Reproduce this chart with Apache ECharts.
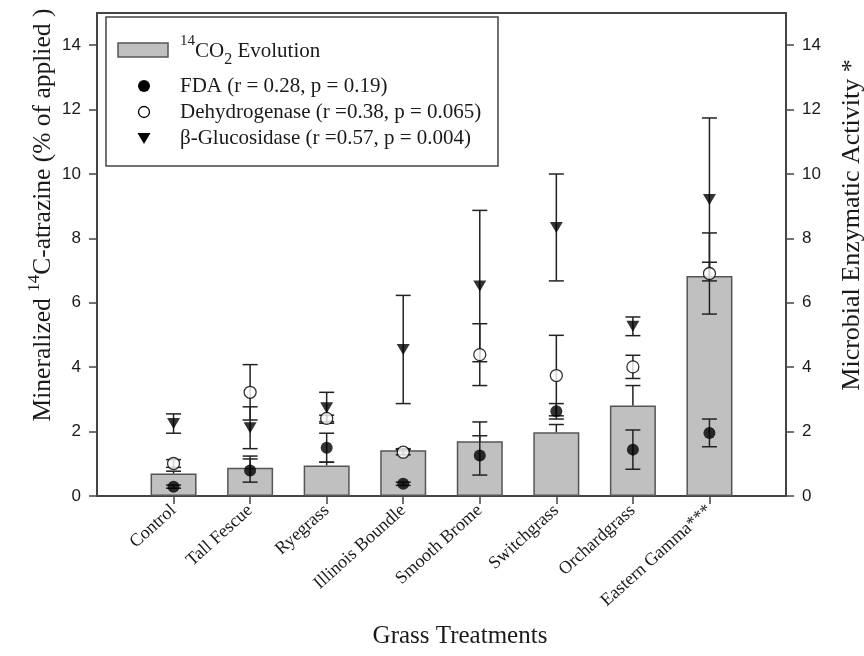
<!DOCTYPE html>
<html>
<head>
<meta charset="utf-8">
<script src="https://cdn.jsdelivr.net/npm/echarts@6/dist/echarts.min.js"></script>
<style>
  html, body { margin: 0; padding: 0; background: #fff; }
  #main { width: 864px; height: 656px; }
</style>
</head>
<body>
<div id="main"></div>
<script>
// grass treatments
var categories = ['Control', 'Tall Fescue', 'Ryegrass', 'Illinois Boundle', 'Smooth Brome',
  'Switchgrass', 'Orchardgrass', 'Eastern Gamma***'];

// 14CO2 evolution (% of applied) and upper error
var co2 = [0.70, 0.88, 0.95, 1.42, 1.70, 1.98, 2.81, 6.83];
var co2Err = [0.07, 0.36, 0.10, 0.05, 0.60, 0.24, 0.62, 0.43];

// enzyme activities and their errors
var fda = [0.29, 0.79, 1.50, 0.38, 1.26, 2.63, 1.44, 1.96];
var fdaErr = [0.05, 0.36, 0.45, 0.05, 0.61, 0.24, 0.61, 0.43];
var dehydro = [1.01, 3.22, 2.41, 1.36, 4.39, 3.74, 4.01, 6.91];
var dehydroErr = [0.12, 0.86, 0.10, 0.08, 0.96, 1.25, 0.36, 1.26];
var gluco = [2.25, 2.12, 2.74, 4.55, 6.52, 8.34, 5.27, 9.21];
var glucoErr = [0.30, 0.65, 0.48, 1.68, 2.35, 1.66, 0.29, 2.53];

var yTicks = [0, 2, 4, 6, 8, 10, 12, 14];

// blank slots at both ends so the points sit one step in from the frame
var xLabels = [''].concat(categories, [' ']);

var serif = 'Liberation Serif';
var sans = 'Liberation Sans';
var ink = '#1a1a1a';
var axisGray = '#444';

function pairs(vals) {
  return categories.map(function (c, i) { return [c, vals[i]]; });
}

function errRange(vals, errs, upperOnly) {
  return categories.map(function (c, i) {
    return [c, upperOnly ? vals[i] : vals[i] - errs[i], vals[i] + errs[i]];
  });
}

function errorBar(upperOnly) {
  return function (params, api) {
    var x = api.value(0);
    var lo = api.coord([x, api.value(1)]);
    var hi = api.coord([x, api.value(2)]);
    var hw = 7.5;
    var st = { stroke: '#222', lineWidth: 1.5 };
    var kids = [
      { type: 'line', shape: { x1: lo[0], y1: lo[1], x2: hi[0], y2: hi[1] }, style: st },
      { type: 'line', shape: { x1: hi[0] - hw, y1: hi[1], x2: hi[0] + hw, y2: hi[1] }, style: st }
    ];
    if (!upperOnly) {
      kids.push({ type: 'line', shape: { x1: lo[0] - hw, y1: lo[1], x2: lo[0] + hw, y2: lo[1] }, style: st });
    }
    return { type: 'group', children: kids };
  };
}

function valueAxis(pos) {
  return {
    type: 'value',
    position: pos,
    min: 0,
    max: 15,
    interval: 2,
    splitLine: { show: false },
    axisLine: { show: true, lineStyle: { color: axisGray, width: 2 } },
    axisTick: { show: true, length: 8, customValues: yTicks, lineStyle: { color: axisGray, width: 1.5 } },
    axisLabel: { customValues: yTicks, margin: 16, fontFamily: sans, fontSize: 17, color: ink }
  };
}

var chart = echarts.init(document.getElementById('main'));

var option = {
  backgroundColor: '#ffffff',
  animation: false,
  grid: {
    left: 97, right: 78, top: 13, bottom: 160,
    show: true, borderColor: axisGray, borderWidth: 2
  },
  xAxis: {
    type: 'category',
    data: xLabels,
    boundaryGap: false,
    axisLine: { lineStyle: { color: axisGray, width: 2 } },
    axisTick: {
      length: 8,
      interval: function (i) { return i > 0 && i < xLabels.length - 1; },
      lineStyle: { color: axisGray, width: 1.5 }
    },
    axisLabel: {
      interval: 0, rotate: 42, margin: 12,
      fontFamily: serif, fontSize: 18, color: ink
    }
  },
  yAxis: [valueAxis('left'), valueAxis('right')],
  series: [
    {
      name: 'CO2 Evolution',
      type: 'bar',
      data: pairs(co2),
      barWidth: 46,
      itemStyle: { color: '#c0c0c0', borderColor: '#555', borderWidth: 1.5 },
      z: 2
    },
    {
      type: 'custom', renderItem: errorBar(true), data: errRange(co2, co2Err, true),
      encode: { x: 0, y: [1, 2] }, z: 3
    },
    {
      type: 'custom', renderItem: errorBar(false), data: errRange(fda, fdaErr),
      yAxisIndex: 1, encode: { x: 0, y: [1, 2] }, z: 3
    },
    {
      type: 'custom', renderItem: errorBar(false), data: errRange(dehydro, dehydroErr),
      yAxisIndex: 1, encode: { x: 0, y: [1, 2] }, z: 3
    },
    {
      type: 'custom', renderItem: errorBar(false), data: errRange(gluco, glucoErr),
      yAxisIndex: 1, encode: { x: 0, y: [1, 2] }, z: 3
    },
    {
      name: 'FDA', type: 'scatter', yAxisIndex: 1, data: pairs(fda),
      symbol: 'circle', symbolSize: 12,
      itemStyle: { color: '#000' }, z: 5
    },
    {
      name: 'Dehydrogenase', type: 'scatter', yAxisIndex: 1, data: pairs(dehydro),
      symbol: 'circle', symbolSize: 12,
      itemStyle: { color: '#fff', borderColor: '#000', borderWidth: 1.3 }, z: 5
    },
    {
      name: 'Glucosidase', type: 'scatter', yAxisIndex: 1, data: pairs(gluco),
      symbol: 'triangle', symbolRotate: 180, symbolSize: [13, 11],
      itemStyle: { color: '#000' }, z: 5
    }
  ],
  graphic: [
    // axis titles
    {
      type: 'text', x: 43, y: 215, rotation: Math.PI / 2,
      style: {
        text: '{n|Mineralized }{s|14}{n|C-atrazine (% of applied )}',
        align: 'center', verticalAlign: 'middle', fill: ink,
        rich: {
          n: { fontFamily: serif, fontSize: 25.5, lineHeight: 34 },
          s: { fontFamily: serif, fontSize: 17, verticalAlign: 'top' }
        }
      }
    },
    {
      type: 'text', x: 852, y: 225, rotation: Math.PI / 2,
      style: {
        text: 'Microbial Enzymatic Activity *',
        align: 'center', verticalAlign: 'middle', fill: ink,
        font: '26px "Liberation Serif"'
      }
    },
    {
      type: 'text', x: 460, y: 636,
      style: {
        text: 'Grass Treatments',
        align: 'center', verticalAlign: 'middle', fill: ink,
        font: '25px "Liberation Serif"'
      }
    },
    // legend box
    {
      type: 'group', z: 10,
      children: [
        { type: 'rect', shape: { x: 106, y: 17, width: 392, height: 149 },
          style: { fill: '#fff', stroke: axisGray, lineWidth: 1.5 } },
        { type: 'rect', shape: { x: 118, y: 43, width: 50, height: 14 },
          style: { fill: '#c0c0c0', stroke: '#555', lineWidth: 1.5 } },
        { type: 'text', x: 180, y: 51,
          style: {
            text: '{s|14}{n|CO}{b|2}{n| Evolution}', verticalAlign: 'middle', fill: ink,
            rich: {
              n: { fontFamily: serif, fontSize: 21, lineHeight: 34 },
              s: { fontFamily: serif, fontSize: 15, verticalAlign: 'top' },
              b: { fontFamily: serif, fontSize: 16, verticalAlign: 'bottom' }
            }
          } },
        { type: 'circle', shape: { cx: 144, cy: 86, r: 6 }, style: { fill: '#000' } },
        { type: 'text', x: 180, y: 86,
          style: { text: 'FDA (r = 0.28, p = 0.19)', verticalAlign: 'middle', fill: ink,
            font: '21px "Liberation Serif"' } },
        { type: 'circle', shape: { cx: 144, cy: 112, r: 5.5 },
          style: { fill: '#fff', stroke: '#000', lineWidth: 1.3 } },
        { type: 'text', x: 180, y: 112,
          style: { text: 'Dehydrogenase (r =0.38, p = 0.065)', verticalAlign: 'middle', fill: ink,
            font: '21px "Liberation Serif"' } },
        { type: 'polygon', shape: { points: [[137.5, 133], [150.5, 133], [144, 144]] },
          style: { fill: '#000' } },
        { type: 'text', x: 180, y: 138,
          style: { text: '\u03b2-Glucosidase (r =0.57, p = 0.004)', verticalAlign: 'middle', fill: ink,
            font: '21px "Liberation Serif"' } }
      ]
    }
  ]
};

chart.setOption(option);
</script>
</body>
</html>
